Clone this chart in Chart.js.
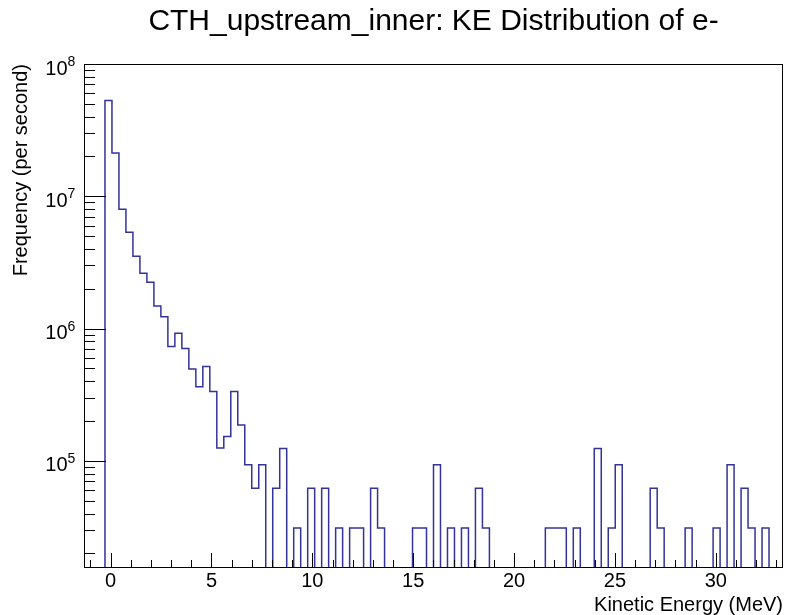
<!DOCTYPE html>
<html>
<head>
<meta charset="utf-8">
<title>CTH_upstream_inner: KE Distribution of e-</title>
<script src="https://cdn.jsdelivr.net/npm/chart.js@4.4.0/dist/chart.umd.min.js"></script>
<style>
  html, body { margin: 0; padding: 0; background: #fff; }
  canvas { display: block; }
</style>
</head>
<body>
<canvas id="chart" width="787" height="615"></canvas>
<script>
// Histogram binning (100 bins over the whole axis range, like the ROOT TH1)
const nBins = 100;
const histMin = -1.32;
const histMax = 33.33;

// Frequency (per second) in each bin; 0 = empty bin
const rate = [
    0, 0, 0, 5.29e7, 2.12e7, 7.99e6, 5.35e6, 3.52e6, 2.62e6, 2.24e6,
    1.48e6, 1.23e6, 7.31e5, 9.23e5, 7.06e5, 4.96e5, 3.64e5, 5.16e5, 3.34e5, 1.25e5,
    1.53e5, 3.34e5, 1.87e5, 9.33e4, 6.22e4, 9.33e4, 0, 6.22e4, 1.24e5, 0,
    3.11e4, 0, 6.22e4, 0, 6.22e4, 0, 3.11e4, 0, 3.11e4, 3.11e4,
    0, 6.22e4, 3.11e4, 0, 0, 0, 0, 3.11e4, 3.11e4, 0,
    9.33e4, 0, 3.11e4, 0, 3.11e4, 0, 6.22e4, 3.11e4, 0, 0,
    0, 0, 0, 0, 0, 0, 3.11e4, 3.11e4, 3.11e4, 0,
    3.11e4, 0, 0, 1.24e5, 0, 3.11e4, 9.33e4, 0, 0, 0,
    0, 6.22e4, 3.11e4, 0, 0, 0, 3.11e4, 0, 0, 0,
    3.11e4, 0, 9.33e4, 0, 6.22e4, 3.11e4, 0, 3.11e4, 0, 0,
];

// Axis ticks / labels
const xTickValues = [0, 5, 10, 15, 20, 25, 30];
const yTickExps = [5, 6, 7, 8];
const yMin = 1.55e4;
const yMax = 1e8;

const FONT = "'Liberation Sans', Arial, Helvetica, sans-serif";
const LINE_COLOR = "#333399";   // ROOT default line colour 602
const EMPTY = 1;                 // empty bins are drawn below the frame and clipped

// Build the step outline: one point on the left edge of every bin,
// plus one closing point on the right edge of the last bin.
const binWidth = (histMax - histMin) / nBins;
const outline = rate.map((v, i) => ({ x: histMin + i * binWidth, y: v > 0 ? v : EMPTY }));
outline.push({ x: histMax, y: EMPTY });

// ROOT style frame: box, inward ticks and 10^n labels
const rootFrame = {
    id: "rootFrame",
    afterDraw(chart) {
        const { ctx, chartArea: a } = chart;
        const xs = chart.scales.x;
        const ys = chart.scales.y;
        ctx.save();
        ctx.strokeStyle = "#000";
        ctx.lineWidth = 1;
        ctx.strokeRect(a.left + 0.5, a.top + 0.5, a.right - a.left - 1, a.bottom - a.top - 1);

        ctx.beginPath();
        // y ticks: decades long, 2..9 short
        for (let e = 4; e <= 8; e++) {
            for (let m = 1; m <= 9; m++) {
                const v = m * Math.pow(10, e);
                if (v < ys.min || v > ys.max * 1.0001) continue;
                const py = Math.round(ys.getPixelForValue(v)) + 0.5;
                ctx.moveTo(a.left, py);
                ctx.lineTo(a.left + (m === 1 ? 22 : 11), py);
            }
        }
        // x ticks: every unit, long on multiples of 5
        for (let v = Math.ceil(xs.min); v <= xs.max; v++) {
            const px = Math.round(xs.getPixelForValue(v)) + 0.5;
            ctx.moveTo(px, a.bottom);
            ctx.lineTo(px, a.bottom - (v % 5 === 0 ? 15 : 8));
        }
        ctx.stroke();

        // y labels as 10 with a raised exponent
        ctx.fillStyle = "#000";
        ctx.textBaseline = "alphabetic";
        for (const e of yTickExps) {
            const py = ys.getPixelForValue(Math.pow(10, e));
            ctx.font = "20px " + FONT;
            ctx.textAlign = "right";
            ctx.fillText("10", 67.5, py + 10.5);
            ctx.font = "14px " + FONT;
            ctx.textAlign = "left";
            ctx.fillText(String(e), 67.5, py + 2);
        }
        ctx.restore();
    },
};

new Chart(document.getElementById("chart"), {
    type: "line",
    data: {
        datasets: [{
            data: outline,
            // hold each bin's value until the next edge, then go vertical
            stepped: "before",
            borderColor: LINE_COLOR,
            borderWidth: 1.5,
            pointRadius: 0,
            fill: false,
        }],
    },
    options: {
        responsive: false,
        animation: false,
        devicePixelRatio: 1,
        layout: { padding: { left: 0, right: 4, top: 0, bottom: 0 } },
        plugins: {
            legend: { display: false },
            tooltip: { enabled: false },
            title: {
                display: true,
                text: "CTH_upstream_inner: KE Distribution of e-",
                fullSize: false,
                color: "#000",
                font: { family: FONT, size: 30, weight: "normal", lineHeight: 1.2 },
                padding: { top: 4, bottom: 24 },
            },
        },
        scales: {
            x: {
                type: "linear",
                min: histMin,
                max: histMax,
                grid: { display: false, drawTicks: false },
                border: { display: false },
                afterBuildTicks: (scale) => { scale.ticks = xTickValues.map(v => ({ value: v })); },
                afterFit: (scale) => { scale.height = 47; },
                ticks: {
                    color: "#000",
                    font: { family: FONT, size: 20 },
                    padding: 1,
                    maxRotation: 0,
                    autoSkip: false,
                },
                title: {
                    display: true,
                    text: "Kinetic Energy (MeV)",
                    align: "end",
                    color: "#000",
                    font: { family: FONT, size: 20, lineHeight: 1 },
                    padding: { top: 0, bottom: 0 },
                },
            },
            y: {
                type: "logarithmic",
                min: yMin,
                max: yMax,
                grid: { display: false, drawTicks: false },
                border: { display: false },
                afterBuildTicks: (scale) => { scale.ticks = yTickExps.map(e => ({ value: Math.pow(10, e) })); },
                afterFit: (scale) => { scale.width = 84; },
                ticks: { display: false },
                title: {
                    display: true,
                    text: "Frequency (per second)",
                    align: "end",
                    color: "#000",
                    font: { family: FONT, size: 20, lineHeight: 1.2 },
                    padding: { top: 9, bottom: 0 },
                },
            },
        },
    },
    plugins: [rootFrame],
});
</script>
</body>
</html>
